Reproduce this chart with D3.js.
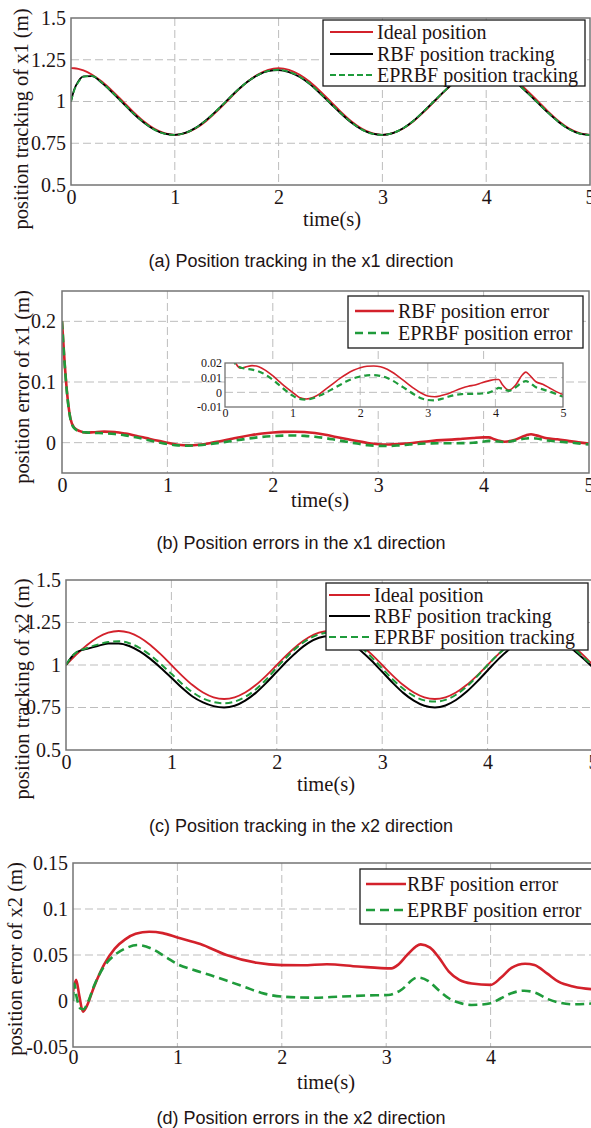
<!DOCTYPE html>
<html>
<head>
<meta charset="utf-8">
<script src="https://cdn.jsdelivr.net/npm/d3@7"></script>
<style>
  body { margin: 0; background: #fff; }
  svg text { fill: #1e1414; }
</style>
</head>
<body>
<div id="content"></div>
<script>
// ******* DATA *******
// (a) x1 tracking
const tA = [0, 0.03, 0.07, 0.12, 0.2, 0.3, 0.4, 0.5, 0.6, 0.7, 0.8, 0.9, 1,
    1.1, 1.2, 1.3, 1.4, 1.5, 1.6, 1.7, 1.8, 1.9, 2,
    2.1, 2.2, 2.3, 2.4, 2.5, 2.6, 2.7, 2.8, 2.9, 3,
    3.1, 3.2, 3.3, 3.4, 3.5, 3.6, 3.7, 3.8, 3.9, 4,
    4.1, 4.2, 4.3, 4.4, 4.5, 4.6, 4.7, 4.8, 4.9, 5];
const idealX1 = [1.2, 1.199, 1.195, 1.186, 1.162, 1.118, 1.062, 1.0, 0.938, 0.882, 0.838, 0.81, 0.8,
    0.81, 0.838, 0.882, 0.938, 1.0, 1.062, 1.118, 1.162, 1.19, 1.2,
    1.19, 1.162, 1.118, 1.062, 1.0, 0.938, 0.882, 0.838, 0.81, 0.8,
    0.81, 0.838, 0.882, 0.938, 1.0, 1.062, 1.118, 1.162, 1.19, 1.2,
    1.19, 1.162, 1.118, 1.062, 1.0, 0.938, 0.882, 0.838, 0.81, 0.8];
const rbfX1 = [1.0, 1.07, 1.12, 1.15, 1.152, 1.11, 1.052, 0.99, 0.928, 0.874, 0.832, 0.807, 0.8,
    0.812, 0.842, 0.888, 0.944, 1.005, 1.066, 1.118, 1.158, 1.182, 1.188,
    1.176, 1.148, 1.104, 1.048, 0.988, 0.928, 0.874, 0.832, 0.807, 0.8,
    0.811, 0.84, 0.885, 0.942, 1.003, 1.064, 1.118, 1.158, 1.183, 1.19,
    1.178, 1.15, 1.106, 1.05, 0.99, 0.93, 0.876, 0.834, 0.808, 0.8];
const epX1 = [1.0, 1.065, 1.115, 1.148, 1.153, 1.112, 1.054, 0.992, 0.93, 0.876, 0.833, 0.807, 0.8,
    0.811, 0.841, 0.887, 0.943, 1.004, 1.065, 1.118, 1.158, 1.183, 1.19,
    1.178, 1.15, 1.106, 1.05, 0.99, 0.93, 0.876, 0.833, 0.807, 0.8,
    0.811, 0.84, 0.885, 0.942, 1.003, 1.064, 1.118, 1.159, 1.184, 1.191,
    1.179, 1.151, 1.107, 1.051, 0.991, 0.931, 0.877, 0.834, 0.808, 0.8];

// (b) x1 errors
const tB = [0, 0.025, 0.045, 0.08, 0.115, 0.17, 0.23,
    0.3, 0.4, 0.5, 0.6, 0.7, 0.8, 0.9, 1, 1.1, 1.2, 1.3, 1.4, 1.5, 1.6, 1.7, 1.8, 1.9, 2,
    2.1, 2.2, 2.3, 2.4, 2.5, 2.6, 2.7, 2.8, 2.9, 3, 3.1, 3.2, 3.3, 3.4, 3.5, 3.6, 3.7, 3.8, 3.9, 4,
    4.05, 4.1, 4.2, 4.3, 4.4, 4.45, 4.5, 4.6, 4.7, 4.8, 4.9, 5];
const rbfErrX1 = [0.2, 0.132, 0.088, 0.04, 0.025, 0.019, 0.0165,
    0.0172, 0.0182, 0.0175, 0.015, 0.0115, 0.0075, 0.0035, 0.0, -0.0035, -0.0045, -0.0035, -0.001, 0.0025, 0.006, 0.0095, 0.0125, 0.015, 0.0168,
    0.0178, 0.018, 0.0175, 0.0158, 0.013, 0.0095, 0.006, 0.0025, -0.0005, -0.0025, -0.003, -0.0022, -0.001, 0.001, 0.0028, 0.0042, 0.005, 0.0065, 0.0078, 0.0088,
    0.0088, 0.0055, 0.0015, 0.005, 0.012, 0.0138, 0.012, 0.0072, 0.0055, 0.003, 0.0005, -0.0015];
const epErrX1 = [0.2, 0.13, 0.086, 0.039, 0.024, 0.0185, 0.017,
    0.0162, 0.0155, 0.0142, 0.012, 0.0088, 0.005, 0.0012, -0.0022, -0.0045, -0.005, -0.004, -0.0022, 0.0, 0.0025, 0.005, 0.0075, 0.0095, 0.0108,
    0.0116, 0.0118, 0.0112, 0.0098, 0.0075, 0.0045, 0.0015, -0.0015, -0.004, -0.0052, -0.0055, -0.0045, -0.003, -0.0018, -0.0012, -0.001, -0.001, -0.0008, -0.0002, 0.0018,
    0.003, 0.0025, 0.001, 0.0035, 0.0068, 0.0076, 0.0068, 0.0035, 0.002, 0.0005, -0.0012, -0.003];

// (c) x2 tracking
const tC = [0, 0.05, 0.1, 0.2, 0.3, 0.4, 0.5, 0.6, 0.7, 0.8, 0.9, 1,
    1.1, 1.2, 1.3, 1.4, 1.5, 1.6, 1.7, 1.8, 1.9, 2,
    2.1, 2.2, 2.3, 2.4, 2.5, 2.6, 2.7, 2.8, 2.9, 3,
    3.1, 3.2, 3.3, 3.4, 3.5, 3.6, 3.7, 3.8, 3.9, 4,
    4.1, 4.2, 4.3, 4.4, 4.5, 4.6, 4.7, 4.8, 4.9, 5];
const idealX2 = [1.0, 1.031, 1.062, 1.118, 1.162, 1.19, 1.2, 1.19, 1.162, 1.118, 1.062, 1.0,
    0.938, 0.882, 0.838, 0.81, 0.8, 0.81, 0.838, 0.882, 0.938, 1.0,
    1.062, 1.118, 1.162, 1.19, 1.2, 1.19, 1.162, 1.118, 1.062, 1.0,
    0.938, 0.882, 0.838, 0.81, 0.8, 0.81, 0.838, 0.882, 0.938, 1.0,
    1.062, 1.118, 1.162, 1.19, 1.2, 1.19, 1.162, 1.118, 1.062, 1.0];
const rbfX2 = [1.0, 1.045, 1.075, 1.095, 1.112, 1.126, 1.127, 1.112, 1.08, 1.036, 0.983, 0.925,
    0.866, 0.815, 0.78, 0.758, 0.75, 0.76, 0.79, 0.836, 0.895, 0.96,
    1.025, 1.083, 1.13, 1.16, 1.17, 1.16, 1.13, 1.083, 1.025, 0.96,
    0.895, 0.836, 0.79, 0.76, 0.75, 0.762, 0.794, 0.842, 0.902, 0.968,
    1.033, 1.09, 1.135, 1.163, 1.172, 1.163, 1.138, 1.096, 1.043, 0.985];
const epX2 = [1.0, 1.045, 1.075, 1.1, 1.12, 1.135, 1.14, 1.128, 1.1, 1.058, 1.005, 0.948,
    0.89, 0.84, 0.803, 0.782, 0.775, 0.785, 0.812, 0.856, 0.915, 0.985,
    1.05, 1.108, 1.152, 1.18, 1.19, 1.18, 1.152, 1.105, 1.045, 0.98,
    0.915, 0.86, 0.818, 0.792, 0.785, 0.795, 0.825, 0.872, 0.933, 1.0,
    1.062, 1.115, 1.155, 1.18, 1.19, 1.18, 1.152, 1.108, 1.05, 0.995];

// (d) x2 errors, [time, value]
const rbfErrX2 = [[0, 0.01], [0.03, 0.023], [0.06, 0.006], [0.095, -0.0116], [0.13, -0.006], [0.2, 0.015],
    [0.3, 0.04], [0.4, 0.057], [0.5, 0.067], [0.6, 0.073], [0.73, 0.0753], [0.86, 0.0738], [1.0, 0.069],
    [1.22, 0.062], [1.47, 0.05], [1.76, 0.0415], [2.0, 0.039], [2.2, 0.0388], [2.43, 0.04], [2.73, 0.0375],
    [3.05, 0.0355], [3.12, 0.04], [3.2, 0.05], [3.33, 0.0616], [3.42, 0.058], [3.5, 0.048], [3.6, 0.032],
    [3.7, 0.023], [3.82, 0.019], [4.0, 0.0175], [4.1, 0.0255], [4.2, 0.036], [4.33, 0.0405], [4.42, 0.039],
    [4.54, 0.03], [4.65, 0.021], [4.8, 0.0155], [5.0, 0.0125]];
const epErrX2 = [[0, 0], [0.012, 0.019], [0.035, 0.004], [0.07, -0.008], [0.1, -0.009], [0.14, -0.002],
    [0.2, 0.016], [0.3, 0.038], [0.4, 0.05], [0.5, 0.057], [0.62, 0.0608], [0.75, 0.057], [0.9, 0.047],
    [1.0, 0.04], [1.15, 0.034], [1.32, 0.028], [1.5, 0.021], [1.65, 0.015], [1.8, 0.009], [2.0, 0.0048],
    [2.3, 0.0036], [2.55, 0.0047], [2.8, 0.006], [3.02, 0.0065], [3.13, 0.011], [3.3, 0.0255], [3.4, 0.022],
    [3.5, 0.012], [3.6, 0.003], [3.7, -0.002], [3.82, -0.0043], [4.0, -0.0025], [4.1, 0.003], [4.2, 0.0085],
    [4.32, 0.0112], [4.43, 0.009], [4.55, 0.002], [4.65, -0.0015], [4.79, -0.0036], [5.0, -0.0025]];

// ticks
const timeTicks = [0, 1, 2, 3, 4, 5];
const trackTicks = [0.5, 0.75, 1, 1.25, 1.5];
const trackTickLabels = ["0.5", "0.75", "1", "1.25", "1.5"];
const errX1Ticks = [0, 0.1, 0.2];
const errX1TickLabels = ["0", "0.1", "0.2"];
const insetTicks = [-0.01, 0, 0.01, 0.02];
const insetTickLabels = ["-0.01", "0", "0.01", "0.02"];
const errX2Ticks = [-0.05, 0, 0.05, 0.1, 0.15];
const errX2TickLabels = ["-0.05", "0", "0.05", "0.1", "0.15"];

const zip = (ts, vs) => ts.map((t, i) => [t, vs[i]]);

// ******* STYLE *******
const RED = "#d3212b";
const GREEN = "#1f9b3b";
const BLACK = "#000";
const SERIF = "'Liberation Serif','Times New Roman',serif";
const SANS = "'Liberation Sans',Arial,sans-serif";

const svg = d3.select("#content").append("svg")
    .attr("width", 591)
    .attr("height", 1128);

let clipCount = 0;

// ******* PANEL DRAWING *******
function drawPanel(p) {
    const x = d3.scaleLinear().domain(p.xDomain).range(p.xRange);
    const y = d3.scaleLinear().domain(p.yDomain).range(p.yRange);
    const [left, right] = p.xRange;
    const [bottom, top] = p.yRange;
    const g = svg.append("g");

    if (p.fill) {
        g.append("rect").attr("x", left).attr("y", top)
            .attr("width", right - left).attr("height", bottom - top)
            .attr("fill", "#fff");
    }

    // grid lines
    const grid = g.append("g")
        .attr("stroke", "#bdbdbd").attr("stroke-width", 1)
        .attr("stroke-dasharray", p.gridDash || "8,4");
    grid.selectAll(".gx").data(p.xTicks.filter(d => d > p.xDomain[0] && d < p.xDomain[1]))
        .join("line").attr("x1", d => x(d)).attr("x2", d => x(d)).attr("y1", top).attr("y2", bottom);
    grid.selectAll(".gy").data(p.yTicks.filter(d => d > p.yDomain[0] && d < p.yDomain[1]))
        .join("line").attr("y1", d => y(d)).attr("y2", d => y(d)).attr("x1", left).attr("x2", right);

    // tick labels through d3 axes
    const xAxis = g.append("g").attr("transform", `translate(0,${bottom})`)
        .call(d3.axisBottom(x).tickValues(p.xTicks).tickSize(0).tickPadding(p.xPad)
            .tickFormat(d3.format("d")));
    const yAxis = g.append("g").attr("transform", `translate(${left},0)`)
        .call(d3.axisLeft(y).tickValues(p.yTicks).tickSize(0).tickPadding(p.yPad)
            .tickFormat((d, i) => p.yTickLabels[i]));
    [xAxis, yAxis].forEach(a => {
        a.select(".domain").remove();
        a.selectAll("text").attr("font-family", SERIF).attr("font-size", p.tickSize)
            .attr("fill", "#1e1414");
    });

    // series
    const clipId = "clip" + (clipCount++);
    g.append("clipPath").attr("id", clipId).append("rect")
        .attr("x", left).attr("y", top).attr("width", right - left).attr("height", bottom - top);
    const line = d3.line().x(d => x(d[0])).y(d => y(d[1])).curve(d3.curveMonotoneX);
    g.append("g").attr("clip-path", `url(#${clipId})`)
        .selectAll("path").data(p.series).join("path")
        .attr("d", s => line(s.data))
        .attr("fill", "none")
        .attr("stroke", s => s.color)
        .attr("stroke-width", s => s.width)
        .attr("stroke-dasharray", s => s.dash || null);

    // box
    g.append("rect").attr("x", left).attr("y", top)
        .attr("width", right - left).attr("height", bottom - top)
        .attr("fill", "none").attr("stroke", "#747474").attr("stroke-width", p.boxWidth || 1.5);

    // axis labels
    if (p.xLabel) {
        g.append("text").attr("x", p.xLabel.x).attr("y", p.xLabel.y)
            .attr("text-anchor", "middle").attr("dominant-baseline", "central")
            .attr("font-family", SERIF).attr("font-size", 20.5).text("time(s)");
    }
    if (p.yLabel) {
        g.append("text")
            .attr("transform", `translate(${p.yLabel.x},${p.yLabel.y}) rotate(-90)`)
            .attr("text-anchor", "middle").attr("dominant-baseline", "central")
            .attr("font-family", SERIF).attr("font-size", 20.5).text(p.yLabel.text);
    }
    return g;
}

function drawLegend(L) {
    const g = svg.append("g");
    g.append("rect").attr("x", L.box[0]).attr("y", L.box[1])
        .attr("width", L.box[2]).attr("height", L.box[3])
        .attr("fill", "#fff").attr("stroke", "#1a1a1a").attr("stroke-width", 1.3);
    const rows = g.selectAll("g").data(L.rows).join("g")
        .attr("transform", (d, i) => `translate(0,${L.rowY[i]})`);
    rows.append("line").attr("x1", L.lineX[0]).attr("x2", L.lineX[1])
        .attr("stroke", d => d.color).attr("stroke-width", d => d.width)
        .attr("stroke-dasharray", d => d.dash || null);
    rows.append("text").attr("x", L.textX).attr("dominant-baseline", "central")
        .attr("font-family", SERIF).attr("font-size", 20).text(d => d.label);
}

function caption(text, yc) {
    svg.append("text").attr("x", 301).attr("y", yc)
        .attr("text-anchor", "middle").attr("dominant-baseline", "central")
        .attr("font-family", SANS).attr("font-size", 18).attr("fill", "#111")
        .text(text);
}

// ---- (a)
const seriesA = [
    { label: "Ideal position", data: zip(tA, idealX1), color: RED, width: 1.8 },
    { label: "RBF position tracking", data: zip(tA, rbfX1), color: BLACK, width: 1.8 },
    { label: "EPRBF position tracking", data: zip(tA, epX1), color: GREEN, width: 1.8, dash: "6,3" }
];
drawPanel({
    xDomain: [0, 5], xRange: [71, 590], yDomain: [0.5, 1.5], yRange: [185, 18],
    xTicks: timeTicks, yTicks: trackTicks, yTickLabels: trackTickLabels,
    xPad: 5, yPad: 5, tickSize: 20, series: seriesA,
    xLabel: { x: 332, y: 219 },
    yLabel: { x: 21, y: 119, text: "position tracking of x1 (m)" }
});
drawLegend({ box: [323, 20, 262, 66], rowY: [32, 54, 75], lineX: [330, 373], textX: 377, rows: seriesA });
caption("(a) Position tracking in the x1 direction", 261);

// ---- (b)
const seriesB = [
    { label: "RBF position error", data: zip(tB, rbfErrX1), color: RED, width: 2.6 },
    { label: "EPRBF position error", data: zip(tB, epErrX1), color: GREEN, width: 2.6, dash: "8,5" }
];
drawPanel({
    xDomain: [0, 5], xRange: [62, 589], yDomain: [-0.05, 0.25], yRange: [473, 291],
    xTicks: timeTicks, yTicks: errX1Ticks, yTickLabels: errX1TickLabels,
    xPad: 5, yPad: 6, tickSize: 20, series: seriesB,
    xLabel: { x: 320, y: 500 },
    yLabel: { x: 22, y: 387, text: "position error of x1 (m)" }
});
drawLegend({ box: [348, 296, 235, 52], rowY: [311, 333], lineX: [355, 394], textX: 398, rows: seriesB });
drawPanel({
    xDomain: [0, 5], xRange: [225, 563], yDomain: [-0.01, 0.02], yRange: [407, 363],
    xTicks: timeTicks, yTicks: insetTicks, yTickLabels: insetTickLabels,
    xPad: 1, yPad: 3, tickSize: 12, fill: true, boxWidth: 1.3,
    series: [
        { data: zip(tB, rbfErrX1), color: RED, width: 1.6 },
        { data: zip(tB, epErrX1), color: GREEN, width: 2.2, dash: "6,4" }
    ]
});
caption("(b) Position errors in the x1 direction", 543);

// ---- (c)
const seriesC = [
    { label: "Ideal position", data: zip(tC, idealX2), color: RED, width: 1.8 },
    { label: "RBF position tracking", data: zip(tC, rbfX2), color: BLACK, width: 2 },
    { label: "EPRBF position tracking", data: zip(tC, epX2), color: GREEN, width: 2, dash: "7,4" }
];
drawPanel({
    xDomain: [0, 5], xRange: [66, 593], yDomain: [0.5, 1.5], yRange: [750, 580],
    xTicks: timeTicks, yTicks: trackTicks, yTickLabels: trackTickLabels,
    xPad: 5, yPad: 5, tickSize: 20, series: seriesC,
    xLabel: { x: 326, y: 784 },
    yLabel: { x: 22, y: 689, text: "position tracking of x2 (m)" }
});
drawLegend({ box: [326, 583, 262, 67], rowY: [595, 616, 637], lineX: [329, 370], textX: 374, rows: seriesC });
caption("(c) Position tracking in the x2 direction", 826);

// ---- (d)
const seriesD = [
    { label: "RBF position error", data: rbfErrX2, color: RED, width: 2.6 },
    { label: "EPRBF position error", data: epErrX2, color: GREEN, width: 2.6, dash: "9,5" }
];
drawPanel({
    xDomain: [0, 5], xRange: [73, 595], yDomain: [-0.05, 0.15], yRange: [1047, 863],
    xTicks: timeTicks, yTicks: errX2Ticks, yTickLabels: errX2TickLabels,
    xPad: 3, yPad: 5, tickSize: 20, series: seriesD,
    xLabel: { x: 326, y: 1082 },
    yLabel: { x: 15, y: 959, text: "position error of x2 (m)" }
});
drawLegend({ box: [360, 869, 236, 55], rowY: [884, 910], lineX: [366, 406], textX: 407, rows: seriesD });
caption("(d) Position errors in the x2 direction", 1118);
</script>
</body>
</html>
